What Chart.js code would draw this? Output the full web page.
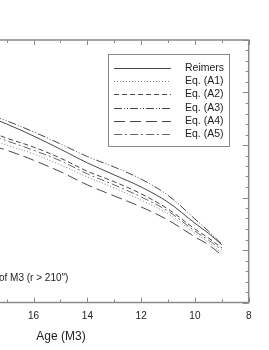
<!DOCTYPE html>
<html>
<head>
<meta charset="utf-8">
<script src="https://cdn.jsdelivr.net/npm/chart.js@4/dist/chart.umd.min.js"></script>
<style>
  body { margin: 0; background: #fff; }
  #wrap { width: 269px; height: 350px; }
</style>
</head>
<body>
<div id="wrap"><canvas id="myChart" width="269" height="350"></canvas></div>
<script>
// ages of M3 (x axis runs backwards)
var ages = [17.5, 17, 16, 15, 14, 13, 12, 11, 10, 9.5, 9];

var reimers = [3.50, 3.40, 3.17, 2.92, 2.66, 2.43, 2.20, 1.91, 1.51, 1.32, 1.10];
var eqA1 = [3.10, 3.00, 2.83, 2.62, 2.39, 2.18, 1.95, 1.69, 1.32, 1.15, 0.94];
var eqA2 = [3.23, 3.13, 2.96, 2.75, 2.50, 2.30, 2.07, 1.78, 1.40, 1.23, 1.04];
var eqA3 = [3.55, 3.46, 3.25, 3.02, 2.78, 2.58, 2.35, 2.04, 1.59, 1.36, 1.11];
var eqA4 = [2.98, 2.90, 2.71, 2.49, 2.24, 2.03, 1.82, 1.57, 1.25, 1.10, 0.90];
var eqA5 = [3.17, 3.08, 2.90, 2.70, 2.45, 2.24, 2.01, 1.74, 1.36, 1.19, 1.00];

var names = ['Reimers', 'Eq. (A1)', 'Eq. (A2)', 'Eq. (A3)', 'Eq. (A4)', 'Eq. (A5)'];
var xLabels = [8, 10, 12, 14, 16];
var xMinor = [9, 11, 13, 15, 17];
var yMajor = [0, 1, 2, 3, 4, 5];

var note = 'of M3 (r > 210")';
var xTitle = 'Age (M3)';

function pts(vals) {
  return ages.map(function (a, i) { return { x: a, y: vals[i] }; });
}

function line(name, vals, dash, color) {
  return {
    label: name,
    data: pts(vals),
    borderColor: color || '#333',
    borderWidth: 0.9,
    borderDash: dash,
    pointRadius: 0,
    fill: false,
    tension: 0.35
  };
}

// frame + inward ticks on top, bottom and right
var framePlugin = {
  id: 'frame',
  afterDraw: function (chart) {
    var ctx = chart.ctx, a = chart.chartArea;
    var xs = chart.scales.x, ys = chart.scales.y;
    ctx.save();
    ctx.strokeStyle = '#8a8a8a';
    ctx.lineWidth = 1.5;
    ctx.beginPath();
    ctx.moveTo(a.left - 2, a.top); ctx.lineTo(a.right, a.top);
    ctx.lineTo(a.right, a.bottom); ctx.lineTo(a.left - 2, a.bottom);
    ctx.stroke();

    ctx.lineWidth = 1;
    ctx.beginPath();
    xLabels.concat(xMinor).forEach(function (v) {
      var px = Math.round(xs.getPixelForValue(v)) + 0.5;
      var len = xLabels.indexOf(v) >= 0 ? 5 : 3;
      ctx.moveTo(px, a.top); ctx.lineTo(px, a.top + len);
      ctx.moveTo(px, a.bottom); ctx.lineTo(px, a.bottom - len);
    });
    for (var i = 0; i <= 25; i++) {
      var py = Math.round(ys.getPixelForValue(i * 0.2)) + 0.5;
      var l = yMajor.indexOf(i / 5) >= 0 ? 6 : 3;
      ctx.moveTo(a.right, py); ctx.lineTo(a.right - l, py);
    }
    ctx.stroke();

    // texts
    ctx.fillStyle = '#222';
    ctx.textBaseline = 'middle';
    ctx.font = '10px "Liberation Sans", Arial, sans-serif';
    ctx.textAlign = 'left';
    ctx.fillText(note, -1, 278);
    ctx.font = '12px "Liberation Sans", Arial, sans-serif';
    ctx.textAlign = 'center';
    ctx.fillText(xTitle, 61, 337);
    ctx.restore();
  }
};

// boxed legend with line samples
var legendPlugin = {
  id: 'boxLegend',
  afterDraw: function (chart) {
    var ctx = chart.ctx;
    var ds = chart.data.datasets;
    ctx.save();
    ctx.fillStyle = '#fff';
    ctx.fillRect(108, 54.5, 121, 92);
    ctx.strokeStyle = '#8a8a8a';
    ctx.lineWidth = 1;
    ctx.strokeRect(108.5, 54.5, 121, 92);
    ctx.font = '10.5px "Liberation Sans", Arial, sans-serif';
    ctx.textBaseline = 'middle';
    ctx.textAlign = 'left';
    ds.forEach(function (d, i) {
      var y = Math.round(68 + i * 13.2) + 0.5;
      ctx.strokeStyle = d.borderColor;
      ctx.lineWidth = d.borderWidth;
      ctx.setLineDash(d.borderDash || []);
      ctx.beginPath();
      ctx.moveTo(114, y); ctx.lineTo(171, y);
      ctx.stroke();
      ctx.setLineDash([]);
      ctx.fillStyle = '#222';
      ctx.fillText(d.label, 185, y);
    });
    ctx.restore();
  }
};

var ctx = document.getElementById('myChart').getContext('2d');
var myChart = new Chart(ctx, {
  type: 'line',
  data: {
    datasets: [
      line(names[0], reimers, []),
      line(names[1], eqA1, [1, 2], '#777'),
      line(names[2], eqA2, [5, 3]),
      line(names[3], eqA3, [8, 2, 1, 2, 1, 2]),
      line(names[4], eqA4, [11, 5]),
      line(names[5], eqA5, [8, 3, 2, 3], '#555')
    ]
  },
  options: {
    responsive: false,
    animation: false,
    devicePixelRatio: 1,
    layout: { padding: { top: 40, right: 20.3, left: 0, bottom: 0 } },
    plugins: { legend: { display: false }, tooltip: { enabled: false } },
    scales: {
      x: {
        type: 'linear',
        reverse: true,
        min: 8,
        max: 17.25,
        grid: { display: false, drawTicks: false },
        border: { display: false },
        ticks: {
          stepSize: 2,
          padding: 8,
          color: '#222',
          font: { family: '"Liberation Sans", Arial, sans-serif', size: 10 }
        },
        afterBuildTicks: function (s) {
          s.ticks = xLabels.map(function (v) { return { value: v }; });
        },
        afterFit: function (s) { s.height = 47.5; }
      },
      y: {
        type: 'linear',
        position: 'right',
        min: 0,
        max: 5,
        grid: { display: false, drawTicks: false },
        border: { display: false },
        ticks: { display: false },
        afterFit: function (s) { s.width = 0; }
      }
    }
  },
  plugins: [framePlugin, legendPlugin]
});
</script>
</body>
</html>
